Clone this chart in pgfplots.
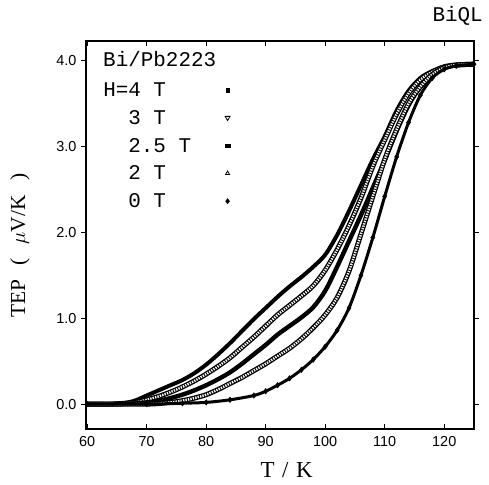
\documentclass[border=0pt]{standalone}
\usepackage{pgfplots}
\pgfplotsset{compat=1.18}
\usepackage{pgfplotstable}
\usepackage{fontspec}
\setmainfont{Liberation Serif}
\newfontfamily\monof{Liberation Mono}
\newfontfamily\sansf{Liberation Sans}

\pgfplotstableread{
T V
60 0.00
63 0.00
66 0.01
68 0.04
70 0.10
72 0.16
74 0.22
76 0.28
78 0.36
80 0.46
82 0.58
84 0.71
86 0.85
88 0.99
90 1.12
92 1.25
94 1.37
96 1.48
98 1.60
100 1.74
102 1.97
104 2.25
106 2.55
108 2.85
110 3.12
112 3.42
114 3.65
116 3.80
118 3.88
120 3.93
122 3.95
125 3.96
}\dataA

\pgfplotstableread{
T V
60 0.00
64 0.00
68 0.02
70 0.05
72 0.09
74 0.14
76 0.20
78 0.27
80 0.35
82 0.44
84 0.54
86 0.66
88 0.78
90 0.91
92 1.04
94 1.15
96 1.26
98 1.38
100 1.56
102 1.80
104 2.08
106 2.40
108 2.77
110 3.08
112 3.38
114 3.62
116 3.78
118 3.87
120 3.93
122 3.95
125 3.96
}\dataB

\pgfplotstableread{
T V
60 0.00
66 0.00
70 0.02
72 0.04
74 0.07
76 0.11
78 0.16
80 0.22
82 0.29
84 0.37
86 0.47
88 0.58
90 0.69
92 0.81
94 0.91
96 1.01
98 1.13
100 1.32
102 1.60
104 1.90
106 2.20
108 2.52
110 2.84
112 3.18
114 3.48
116 3.70
118 3.84
120 3.92
122 3.95
125 3.96
}\dataC

\pgfplotstableread{
T V
60 0.00
70 0.00
74 0.02
76 0.04
78 0.07
80 0.11
82 0.17
84 0.24
86 0.31
88 0.39
90 0.47
92 0.56
94 0.65
96 0.76
98 0.89
100 1.04
102 1.24
104 1.55
106 1.98
108 2.42
110 2.85
112 3.20
114 3.50
116 3.70
118 3.84
120 3.92
122 3.95
125 3.96
}\dataD

\pgfplotstableread{
T V
60 0.00
70 0.00
76 0.01
80 0.02
84 0.05
88 0.10
90 0.15
92 0.22
94 0.30
96 0.40
98 0.52
100 0.67
102 0.86
104 1.12
106 1.50
108 1.94
110 2.42
112 2.88
114 3.28
116 3.60
118 3.80
120 3.90
122 3.94
125 3.96
}\dataE

\pgfplotsset{
 solidc/.style={black, line width=4bp, smooth, no markers, forget plot},
 ladA/.style={black, line width=5bp, smooth, no markers, forget plot},
 ladB/.style={white, line width=2.4bp, smooth, no markers, forget plot},
 ladC/.style={black, line width=3bp, smooth, no markers, forget plot, dash pattern=on 0.9bp off 1.6bp},
}

\begin{document}
\begin{tikzpicture}
\useasboundingbox (-86bp,-56bp) rectangle (403bp,429bp);
\begin{axis}[
  scale only axis, width=388bp, height=388bp,
  at={(0,0)}, anchor=south west,
  xmin=59.8, xmax=125, ymin=-0.29, ymax=4.23,
  xtick={60,70,...,120}, ytick={0,1,2,3,4},
  xtick align=inside, ytick align=outside,
  major tick length=5bp,
  tick style={black, line width=0.8bp},
  axis line style={black, line width=1.4bp},
  yticklabel style={/pgf/number format/fixed, /pgf/number format/fixed zerofill, /pgf/number format/precision=1, xshift=-1bp},
  ticklabel style={font=\sansf\fontsize{14.5}{16}\selectfont},
  /pgf/number format/assume math mode=true,
  xticklabel style={yshift=-4bp},
  xlabel={T\,\,/\,\,K},
  xlabel style={font=\fontsize{23}{26}\selectfont, at={(axis description cs:0.517,-0.126)}, anchor=base},
  ylabel={TEP\ \ \,(\ \ \,$\mu$V/K\ \ \,)},
  ylabel style={font=\fontsize{21.5}{24}\selectfont, at={(axis description cs:-0.170,0.472)}, anchor=center},
  legend plot pos=right,
  legend cell align=left,
  legend style={at={(rel axis cs:0.044,0.891)}, anchor=north west, draw=none, fill=none,
    font=\monof\fontsize{21}{25}\selectfont, row sep=14.8bp, inner sep=0pt,
    column sep=34bp,
    nodes={inner sep=0pt, text height=13bp, text depth=0bp}},
]
% H = 4 T
\addplot[solidc] table[x=T,y=V] {\dataA};
% H = 3 T (open triangles)
\addplot[ladA] table[x=T,y=V] {\dataB};
\addplot[ladB] table[x=T,y=V] {\dataB};
\addplot[ladC] table[x=T,y=V] {\dataB};
% H = 2.5 T
\addplot[solidc, line width=4.4bp] table[x=T,y=V] {\dataC};
% H = 2 T (open triangles)
\addplot[ladA] table[x=T,y=V] {\dataD};
\addplot[ladB] table[x=T,y=V] {\dataD};
\addplot[ladC] table[x=T,y=V] {\dataD};
% H = 0 T (diamonds)
\addplot[black, line width=3bp, smooth, no markers, forget plot] table[x=T,y=V] {\dataE};
\addplot[black, only marks, mark=diamond*, mark size=2.8bp, forget plot] table[x=T,y=V] {\dataE};

\addlegendimage{only marks, mark=square*, mark size=1.8bp, black}
\addlegendentry{H=4 T}
\addlegendimage{only marks, mark=triangle, mark options={rotate=180, line width=0.8bp}, mark size=2.8bp, black}
\addlegendentry{\phantom{H=}3 T}
\addlegendimage{only marks, mark=square*, mark size=2.4bp, mark options={yscale=0.75}, black}
\addlegendentry{\phantom{H=}2.5 T}
\addlegendimage{only marks, mark=triangle, mark options={line width=0.8bp}, mark size=2.4bp, black}
\addlegendentry{\phantom{H=}2 T}
\addlegendimage{only marks, mark=diamond*, mark size=2.6bp, black}
\addlegendentry{\phantom{H=}0 T}
\end{axis}
\node[anchor=base west, font=\monof\fontsize{21}{25}\selectfont, inner sep=0pt] at (17bp,362bp) {Bi/Pb2223};
\node[anchor=base east, font=\monof\fontsize{21}{24}\selectfont, inner sep=0pt] at (397bp,407bp) {BiQL};
\end{tikzpicture}
\end{document}
